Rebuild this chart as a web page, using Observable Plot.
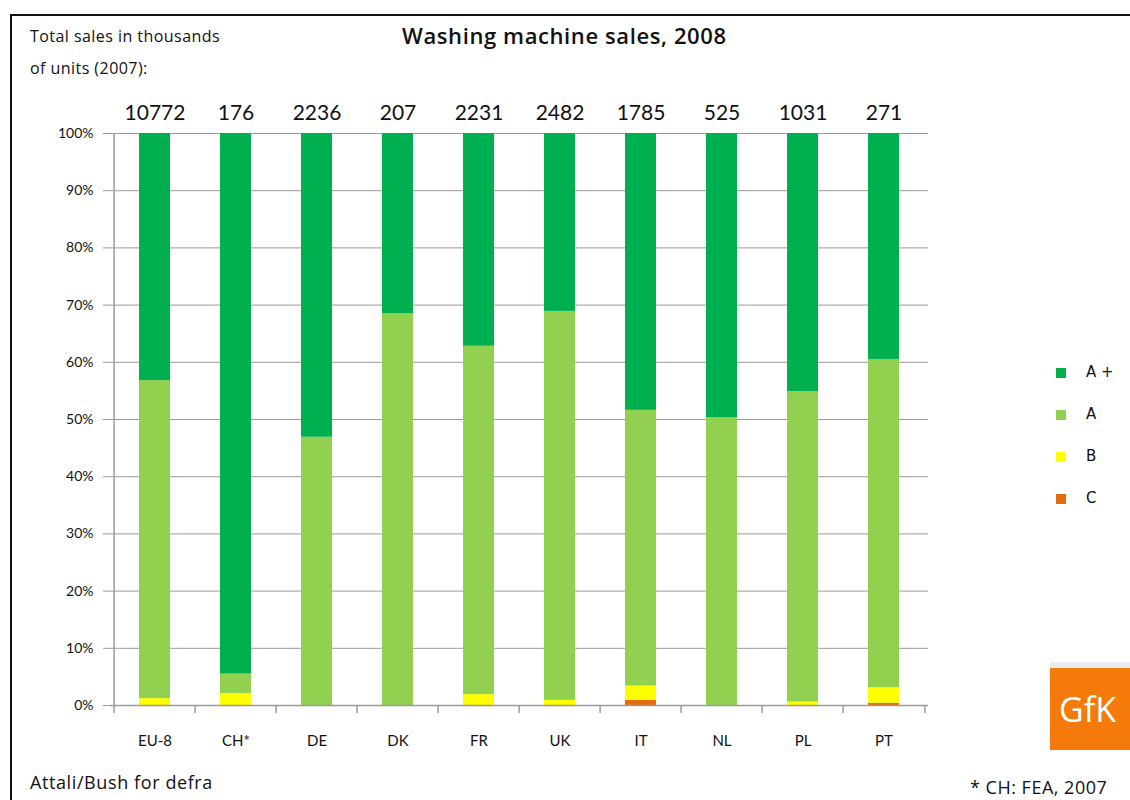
<!DOCTYPE html>
<html>
<head>
<meta charset="utf-8">
<script src="https://cdn.jsdelivr.net/npm/d3@7"></script>
<script src="https://cdn.jsdelivr.net/npm/@observablehq/plot@0.6"></script>
<style>
  html, body { margin: 0; padding: 0; background: #fff; }
  #wrap { position: relative; width: 1130px; height: 800px; overflow: hidden; font-family: "Open Sans", Lato, sans-serif; color: #111; }
  #frame { position: absolute; left: 10px; top: 14px; width: 1200px; height: 900px; border-left: 2px solid #111; border-top: 2px solid #111; }
  #chart { position: absolute; left: 0; top: 0; }
  .abs { position: absolute; white-space: nowrap; }
  #title { left: 402px; top: 20px; font-size: 22px; font-weight: 600; letter-spacing: 0.6px; }
  #note1 { left: 30px; top: 25px; font-size: 16px; letter-spacing: 0.45px; }
  #note2 { left: 30px; top: 57px; font-size: 16px; letter-spacing: 0.45px; }
  #source { left: 30px; top: 770px; font-size: 18px; letter-spacing: 0.6px; }
  #foot { left: 970px; top: 775px; font-size: 18px; letter-spacing: 0.5px; }
  #logo { left: 1050px; top: 662px; width: 90px; height: 88px; background: #f47a0a; border-top: 6px solid #e8ecef; box-sizing: border-box; color: #fff; font-size: 34px; font-family: "Open Sans", sans-serif; padding: 18px 0 0 9px; }
  #legend { left: 1056px; top: 363px; font-size: 15px; font-family: "DejaVu Sans", sans-serif; }
  .li { position: relative; height: 42px; }
  .sw { position: absolute; left: 0; top: 5px; width: 10px; height: 10px; }
  .lt { position: absolute; left: 30px; top: 0; }
</style>
</head>
<body>
<div id="wrap">
  <div id="frame"></div>
  <div id="chart"></div>
  <div class="abs" id="title">Washing machine sales, 2008</div>
  <div class="abs" id="note1">Total sales in thousands</div>
  <div class="abs" id="note2">of units (2007):</div>
  <div class="abs" id="legend"></div>
  <div class="abs" id="logo">GfK</div>
  <div class="abs" id="source">Attali/Bush for defra</div>
  <div class="abs" id="foot">* CH: FEA, 2007</div>
</div>
<script>
const countries = ["EU-8", "CH*", "DE", "DK", "FR", "UK", "IT", "NL", "PL", "PT"];
const totals    = [10772, 176, 2236, 207, 2231, 2482, 1785, 525, 1031, 271];
const shareC    = [0, 0, 0, 0, 0, 0, 0.9, 0, 0, 0.4];
const shareB    = [1.2, 2.1, 0, 0, 1.9, 0.9, 2.5, 0, 0.6, 2.7];
const shareA    = [55.6, 3.4, 46.9, 68.5, 60.9, 68.0, 48.2, 50.3, 54.3, 57.4];
const shareAplus= [43.2, 94.5, 53.1, 31.5, 37.2, 31.1, 48.4, 49.7, 45.1, 39.5];
const classes   = ["C", "B", "A", "A+"];
const legendLabels = ["A +", "A", "B", "C"];
const colors    = ["#e46c0a", "#ffff00", "#92d050", "#00b050"];
const yTicks    = [0, 10, 20, 30, 40, 50, 60, 70, 80, 90, 100];

const series = [shareC, shareB, shareA, shareAplus];
const rows = [];
countries.forEach((c, i) => {
  classes.forEach((k, j) => rows.push({country: c, cls: k, value: series[j][i]}));
});
const totalRows = countries.map((c, i) => ({country: c, total: totals[i]}));
const lastCountry = countries[countries.length - 1];

const W = 1130, H = 800, ML = 110, MR = 202;
const step = (W - ML - MR) / countries.length;

const chart = Plot.plot({
  width: W, height: H,
  marginLeft: ML, marginRight: MR, marginTop: 133, marginBottom: 95,
  style: {fontFamily: "Lato, 'Open Sans', sans-serif", fontSize: "14px", color: "#111", background: "transparent"},
  x: {domain: countries, paddingInner: 0.62, paddingOuter: 0.31, label: null},
  y: {domain: [0, 100], label: null},
  color: {domain: classes, range: colors},
  marks: [
    Plot.gridY(yTicks, {stroke: "#9a9a9a", strokeOpacity: 1, strokeWidth: 1}),
    Plot.barY(rows, {x: "country", y: "value", fill: "cls", order: classes}),
    Plot.ruleY([0], {stroke: "#9a9a9a", strokeWidth: 1.5}),
    Plot.ruleX([countries[0]], {x: d => d, y1: 0, y2: 100, dx: -step / 2, stroke: "#9a9a9a", strokeWidth: 1.5}),
    Plot.ruleX(countries, {x: d => d, y1: 0, y2: -1.4, dx: -step / 2, stroke: "#9a9a9a", strokeWidth: 1.5}),
    Plot.ruleX([lastCountry], {x: d => d, y1: 0, y2: -1.4, dx: step / 2, stroke: "#9a9a9a", strokeWidth: 1.5}),
    Plot.axisY(yTicks, {tickSize: 7, tickPadding: 10, stroke: "#9a9a9a", tickFormat: d => d + "%", fontSize: 14, fill: "#111"}),
    Plot.axisX({tickSize: 0, tickPadding: 30, fontSize: 15, fill: "#111"}),
    Plot.text(totalRows, {x: "country", y: () => 100, text: d => String(d.total), dy: -20, fontSize: 21, fill: "#111"})
  ]
});
document.getElementById("chart").appendChild(chart);

const legend = document.getElementById("legend");
legendLabels.forEach((lab, i) => {
  const li = document.createElement("div");
  li.className = "li";
  const sw = document.createElement("div");
  sw.className = "sw";
  sw.style.background = colors[colors.length - 1 - i];
  const lt = document.createElement("div");
  lt.className = "lt";
  lt.textContent = lab;
  li.appendChild(sw); li.appendChild(lt);
  legend.appendChild(li);
});
</script>
</body>
</html>
